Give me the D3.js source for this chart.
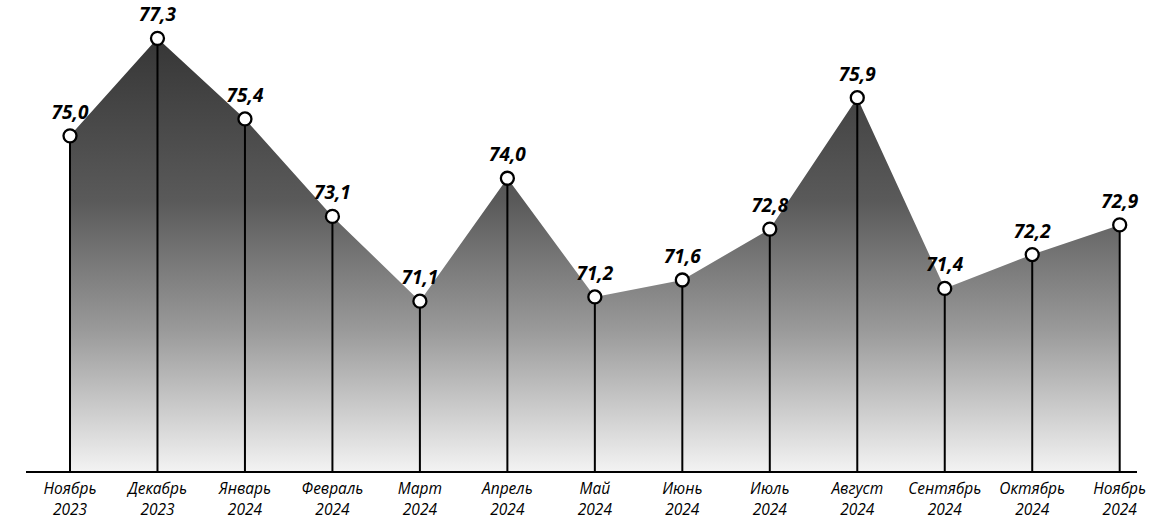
<!DOCTYPE html>
<html><head><meta charset="utf-8">
<script src="https://cdn.jsdelivr.net/npm/d3@7"></script>
<style>html,body{margin:0;padding:0;background:#fff;}svg{display:block;}</style>
</head><body>
<svg id="chart" width="1167" height="521"></svg>
<script>
const months = ["Ноябрь","Декабрь","Январь","Февраль","Март","Апрель","Май","Июнь","Июль","Август","Сентябрь","Октябрь","Ноябрь"];
const years = ["2023","2023","2024","2024","2024","2024","2024","2024","2024","2024","2024","2024","2024"];
const values = [75.0,77.3,75.4,73.1,71.1,74.0,71.2,71.6,72.8,75.9,71.4,72.2,72.9];

const data = values.map((v,i)=>({i, v, m:months[i], yr:years[i]}));
const svg = d3.select("#chart");
const baseY = 472;

const x = d3.scalePoint().domain(d3.range(values.length)).range([70, 1119.7]);
const y = d3.scaleLinear().domain([67.07, 78]).range([baseY, 8.7]);

const defs = svg.append("defs");
const grad = defs.append("linearGradient").attr("id","g").attr("x1",0).attr("y1",0).attr("x2",0).attr("y2",1);
[[0,"#363636"],[0.376,"#5a5a5a"],[0.674,"#9a9a9a"],[1,"#f3f3f3"]].forEach(s=>grad.append("stop").attr("offset",s[0]).attr("stop-color",s[1]));

const area = d3.area().x(d=>x(d.i)).y0(baseY).y1(d=>y(d.v));
svg.append("path").datum(data).attr("d",area).attr("fill","url(#g)");

// stems
svg.selectAll("line.stem").data(data).join("line").attr("class","stem")
  .attr("x1",d=>x(d.i)).attr("x2",d=>x(d.i))
  .attr("y1",d=>y(d.v)).attr("y2",baseY)
  .attr("stroke","#000").attr("stroke-width",2);

// baseline
svg.append("line").attr("x1",26).attr("x2",1137).attr("y1",baseY).attr("y2",baseY)
  .attr("stroke","#000").attr("stroke-width",2);

// points
svg.selectAll("circle").data(data).join("circle")
  .attr("cx",d=>x(d.i)).attr("cy",d=>y(d.v)).attr("r",6.5)
  .attr("fill","#fff").attr("stroke","#000").attr("stroke-width",2.3);

// value labels
svg.selectAll("text.val").data(data).join("text").attr("class","val")
  .attr("x",d=>x(d.i)).attr("y",d=>y(d.v)-17)
  .attr("text-anchor","middle")
  .attr("font-family","'Open Sans', sans-serif").attr("font-style","italic").attr("font-weight","bold")
  .attr("font-size",19).attr("fill","#000")
  .text(d=>d.v.toFixed(1).replace(".",","));

// category labels (two separate lines)
svg.selectAll("text.cat1").data(data).join("text").attr("class","cat1")
  .attr("x",d=>x(d.i)).attr("y",494)
  .attr("text-anchor","middle")
  .attr("font-family","'Open Sans', sans-serif").attr("font-style","italic")
  .attr("font-size",15.5).attr("fill","#000").text(d=>d.m);
svg.selectAll("text.cat2").data(data).join("text").attr("class","cat2")
  .attr("x",d=>x(d.i)).attr("y",515)
  .attr("text-anchor","middle")
  .attr("font-family","'Open Sans', sans-serif").attr("font-style","italic")
  .attr("font-size",15.5).attr("fill","#000").text(d=>d.yr);
</script>
</body></html>
